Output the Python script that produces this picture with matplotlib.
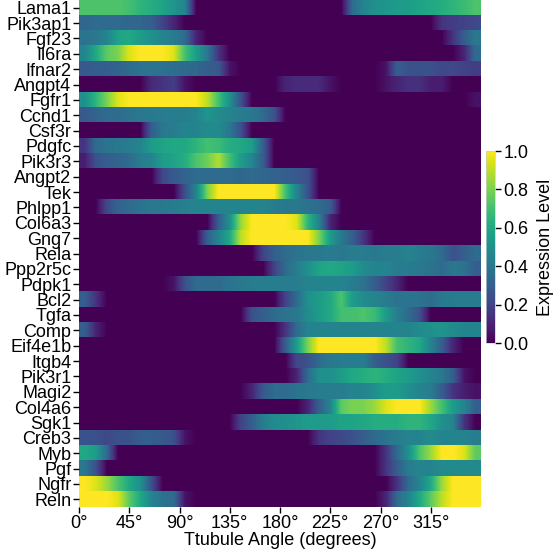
import numpy as np
import matplotlib
matplotlib.use("Agg")
import matplotlib.pyplot as plt

plt.rcParams['font.family'] = ['Liberation Sans', 'DejaVu Sans']

genes = ["Lama1", "Pik3ap1", "Fgf23", "Il6ra", "Ifnar2", "Angpt4", "Fgfr1", "Ccnd1",
         "Csf3r", "Pdgfc", "Pik3r3", "Angpt2", "Tek", "Phlpp1", "Col6a3", "Gng7",
         "Rela", "Ppp2r5c", "Pdpk1", "Bcl2", "Tgfa", "Comp", "Eif4e1b", "Itgb4",
         "Pik3r1", "Magi2", "Col4a6", "Sgk1", "Creb3", "Myb", "Pgf", "Ngfr", "Reln"]

# angle range (degrees), 36 bins of 10 degrees
angle_min, angle_max = 0, 360
angle_ticks = [0, 45, 90, 135, 180, 225, 270, 315]
angle_tick_labels = ["0°", "45°", "90°", "135°", "180°", "225°", "270°", "315°"]

Z = 0.0
lama1   = [0.72,0.72,0.72,0.72,0.70,0.65,0.62,0.58,0.52,0.45,Z,Z,Z,Z,Z,Z,Z,Z,Z,Z,Z,Z,Z,Z,0.35,0.45,0.50,0.52,0.55,0.55,0.58,0.60,0.62,0.65,0.68,0.72]
pik3ap1 = [0.33,0.35,0.35,0.35,0.33,0.33,0.30,0.20,0.10,Z,Z,Z,Z,Z,Z,Z,Z,Z,Z,Z,Z,Z,Z,Z,Z,Z,Z,Z,Z,Z,Z,Z,0.15,0.18,0.20,0.22]
fgf23   = [0.38,0.40,0.45,0.58,0.60,0.55,0.50,0.45,0.42,0.35,0.10,Z,Z,Z,Z,Z,Z,Z,Z,Z,Z,Z,Z,Z,Z,Z,Z,Z,Z,Z,Z,Z,Z,0.15,0.30,0.40]
il6ra   = [0.45,0.60,0.75,0.80,0.95,1.0,1.0,1.0,0.95,0.70,0.55,0.40,0.15,Z,Z,Z,Z,Z,Z,Z,Z,Z,Z,Z,Z,Z,Z,Z,Z,Z,Z,Z,Z,Z,0.10,0.35]
ifnar2  = [0.28,0.30,0.30,0.32,0.35,0.38,0.38,0.38,0.36,0.35,0.33,0.30,0.28,0.05,Z,Z,Z,Z,Z,Z,Z,Z,Z,Z,Z,Z,Z,0.05,0.30,0.25,0.25,0.25,0.22,0.22,0.20,0.18]
angpt4  = [Z,Z,Z,Z,Z,Z,0.12,0.15,0.18,0.05,Z,Z,Z,Z,Z,Z,Z,Z,0.10,0.12,0.12,0.12,0.05,Z,Z,Z,Z,0.05,0.10,0.14,0.14,0.08,0.08,Z,Z,Z]
fgfr1   = [0.50,0.65,0.80,0.95,1.0,1.0,1.0,1.0,1.0,1.0,1.0,0.90,0.70,0.50,0.25,Z,Z,Z,Z,Z,Z,Z,Z,Z,Z,Z,Z,Z,Z,Z,Z,Z,Z,Z,Z,0.05]
ccnd1   = [0.28,0.32,0.35,0.35,0.38,0.40,0.40,0.42,0.42,0.42,0.45,0.52,0.48,0.45,0.42,0.40,0.35,0.25,Z,Z,Z,Z,Z,Z,Z,Z,Z,Z,Z,Z,Z,Z,Z,Z,Z,Z]
csf3r   = [Z,Z,Z,Z,Z,Z,0.30,0.40,0.42,0.45,0.45,0.48,0.48,0.40,0.25,Z,Z,Z,Z,Z,Z,Z,Z,Z,Z,Z,Z,Z,Z,Z,Z,Z,Z,Z,Z,Z]
pdgfc   = [0.15,0.35,0.38,0.40,0.42,0.45,0.55,0.58,0.60,0.60,0.65,0.70,0.68,0.62,0.60,0.55,0.30,Z,Z,Z,Z,Z,Z,Z,Z,Z,Z,Z,Z,Z,Z,Z,Z,Z,Z,Z]
pik3r3  = [0.08,0.25,0.30,0.32,0.35,0.42,0.45,0.55,0.58,0.62,0.72,0.78,0.88,0.70,0.55,0.45,0.30,Z,Z,Z,Z,Z,Z,Z,Z,Z,Z,Z,Z,Z,Z,Z,Z,Z,Z,Z]
angpt2  = [Z,Z,Z,Z,Z,Z,Z,0.22,0.28,0.32,0.35,0.35,0.35,0.35,0.33,0.35,0.33,0.32,0.30,0.28,0.25,Z,Z,Z,Z,Z,Z,Z,Z,Z,Z,Z,Z,Z,Z,Z]
tek     = [Z,Z,Z,Z,Z,Z,Z,Z,Z,0.25,0.45,0.80,1.0,1.0,1.0,1.0,1.0,1.0,0.70,0.45,0.25,Z,Z,Z,Z,Z,Z,Z,Z,Z,Z,Z,Z,Z,Z,Z]
phlpp1  = [Z,Z,0.22,0.32,0.35,0.38,0.40,0.40,0.42,0.43,0.45,0.45,0.45,0.45,0.45,0.45,0.45,0.42,0.40,0.40,0.38,0.35,0.30,Z,Z,Z,Z,Z,Z,Z,Z,Z,Z,Z,Z,Z]
col6a3  = [Z,Z,Z,Z,Z,Z,Z,Z,Z,Z,Z,Z,0.30,0.50,0.85,1.0,1.0,1.0,1.0,0.95,0.65,0.45,0.10,Z,Z,Z,Z,Z,Z,Z,Z,Z,Z,Z,Z,Z]
gng7    = [Z,Z,Z,Z,Z,Z,Z,Z,Z,Z,Z,0.30,0.45,0.60,0.90,1.0,1.0,1.0,1.0,1.0,1.0,0.80,0.55,0.40,0.30,0.15,Z,Z,Z,Z,Z,Z,Z,Z,Z,Z]
rela    = [Z,Z,Z,Z,Z,Z,Z,Z,Z,Z,Z,Z,Z,Z,Z,Z,0.20,0.30,0.35,0.38,0.40,0.40,0.42,0.40,0.42,0.42,0.40,0.42,0.42,0.45,0.42,0.40,0.35,0.25,0.30,0.35]
ppp2r5c = [Z,Z,Z,Z,Z,Z,Z,Z,Z,Z,Z,Z,Z,Z,Z,Z,Z,0.20,0.35,0.42,0.50,0.58,0.60,0.58,0.55,0.48,0.45,0.45,0.42,0.42,0.40,0.38,0.35,0.40,0.38,0.30]
pdpk1   = [Z,Z,Z,Z,Z,Z,Z,Z,0.05,0.25,0.35,0.35,0.35,0.38,0.40,0.42,0.42,0.42,0.42,0.42,0.45,0.45,0.45,0.45,0.42,0.38,0.30,0.20,0.10,Z,Z,Z,Z,Z,Z,Z]
bcl2    = [0.30,0.15,Z,Z,Z,Z,Z,Z,Z,Z,Z,Z,Z,Z,Z,Z,Z,Z,0.20,0.35,0.50,0.55,0.60,0.72,0.55,0.48,0.45,0.42,0.38,0.38,0.38,0.35,0.40,0.42,0.42,0.42]
tgfa    = [Z,Z,Z,Z,Z,Z,Z,Z,Z,Z,Z,Z,Z,Z,Z,0.25,0.30,0.35,0.38,0.40,0.48,0.55,0.60,0.70,0.70,0.72,0.68,0.55,0.42,0.35,0.25,Z,Z,Z,Z,Z]
comp    = [0.30,0.10,Z,Z,Z,Z,Z,Z,Z,Z,Z,Z,Z,Z,Z,Z,Z,Z,0.15,0.35,0.45,0.45,0.45,0.45,0.45,0.45,0.45,0.45,0.45,0.45,0.48,0.50,0.52,0.48,0.45,0.45]
eif4e1b = [Z,Z,Z,Z,Z,Z,Z,Z,Z,Z,Z,Z,Z,Z,Z,Z,Z,Z,0.30,0.55,0.80,1.0,1.0,1.0,1.0,1.0,1.0,0.90,0.70,0.65,0.60,0.45,0.30,0.10,Z,Z]
itgb4   = [Z,Z,Z,Z,Z,Z,Z,Z,Z,Z,Z,Z,Z,Z,Z,Z,Z,Z,Z,0.22,0.25,0.35,0.40,0.42,0.42,0.42,0.30,0.25,0.20,Z,Z,Z,Z,Z,Z,Z]
pik3r1  = [Z,Z,Z,Z,Z,Z,Z,Z,Z,Z,Z,Z,Z,Z,Z,Z,Z,Z,Z,0.10,0.35,0.50,0.50,0.55,0.60,0.62,0.65,0.62,0.58,0.55,0.50,0.45,0.40,0.30,0.05,Z]
magi2   = [Z,Z,Z,Z,Z,Z,Z,Z,Z,Z,Z,Z,Z,Z,Z,0.10,0.28,0.35,0.35,0.38,0.40,0.42,0.42,0.42,0.45,0.45,0.50,0.55,0.55,0.50,0.45,0.42,0.30,0.15,0.08,0.05]
col4a6  = [Z,Z,Z,Z,Z,Z,Z,Z,Z,Z,Z,Z,Z,Z,Z,Z,Z,Z,Z,Z,0.10,0.30,0.45,0.75,0.80,0.80,0.85,0.95,1.0,1.0,1.0,0.85,0.70,0.55,0.45,0.30]
sgk1    = [Z,Z,Z,Z,Z,Z,Z,Z,Z,Z,Z,Z,Z,Z,0.20,0.30,0.42,0.48,0.50,0.52,0.55,0.55,0.55,0.58,0.58,0.60,0.62,0.62,0.62,0.65,0.65,0.60,0.50,0.45,0.15,Z]
creb3   = [0.25,0.25,0.22,0.25,0.25,0.30,0.30,0.28,0.25,0.05,Z,Z,Z,Z,Z,Z,Z,Z,Z,Z,Z,0.15,0.20,0.22,0.25,0.30,0.35,0.38,0.42,0.45,0.45,0.48,0.45,0.45,0.45,0.42]
myb     = [0.60,0.55,0.35,Z,Z,Z,Z,Z,Z,Z,Z,Z,Z,Z,Z,Z,Z,Z,Z,Z,Z,Z,Z,Z,Z,Z,Z,0.15,0.35,0.50,0.72,0.85,1.0,1.0,0.95,0.75]
pgf     = [0.40,0.25,Z,Z,Z,Z,Z,Z,Z,Z,Z,Z,Z,Z,Z,Z,Z,Z,Z,Z,Z,Z,Z,Z,Z,Z,Z,0.15,0.30,0.42,0.45,0.45,0.48,0.48,0.48,0.48]
ngfr    = [1.0,0.95,0.85,0.72,0.60,0.50,0.25,Z,Z,Z,Z,Z,Z,Z,Z,Z,Z,Z,Z,Z,Z,Z,Z,Z,Z,Z,Z,Z,0.15,0.35,0.45,0.60,0.85,1.0,1.0,1.0]
reln    = [1.0,1.0,1.0,0.95,0.75,0.60,0.45,0.38,0.35,0.05,Z,Z,Z,Z,Z,Z,Z,Z,Z,Z,Z,Z,Z,Z,Z,Z,Z,0.10,0.35,0.45,0.60,0.75,0.90,1.0,1.0,1.0]

rows = [lama1, pik3ap1, fgf23, il6ra, ifnar2, angpt4, fgfr1, ccnd1, csf3r, pdgfc,
        pik3r3, angpt2, tek, phlpp1, col6a3, gng7, rela, ppp2r5c, pdpk1, bcl2, tgfa,
        comp, eif4e1b, itgb4, pik3r1, magi2, col4a6, sgk1, creb3, myb, pgf, ngfr, reln]
data = np.array(rows)

FS = 13
W, H = 555, 554
fig = plt.figure(figsize=(W / 100, H / 100), dpi=100)
ax = fig.add_axes([79 / W, 1 - 507 / H, (481 - 79) / W, 507 / H])
im = None
for i, row in enumerate(data):
    # each gene row drawn as its own strip, smoothed along the angle axis only
    im = ax.imshow(row[np.newaxis, :], cmap='viridis', vmin=0, vmax=1,
                   extent=(angle_min, angle_max, i + 1, i), aspect='auto',
                   interpolation='bilinear', interpolation_stage='data')
ax.set_xlim(angle_min, angle_max)
ax.set_ylim(len(genes), 0)
for s in ax.spines.values():
    s.set_visible(False)
ax.set_yticks(np.arange(len(genes)) + 0.5)
ax.set_yticklabels(genes, fontsize=FS)
ax.set_xticks(angle_ticks)
ax.set_xticklabels(angle_tick_labels, fontsize=FS)
ax.tick_params(axis='both', length=4, width=1, color='black', pad=1.5)
ax.set_xlabel("Ttubule Angle (degrees)", fontsize=FS, labelpad=0)

cax = fig.add_axes([486 / W, 1 - 343 / H, 9 / W, (343 - 151) / H])
cb = fig.colorbar(im, cax=cax)
cb.set_ticks([0.0, 0.2, 0.4, 0.6, 0.8, 1.0])
cb.ax.tick_params(labelsize=FS, length=4, width=1, pad=2)
cb.outline.set_linewidth(0.5)
cb.outline.set_edgecolor('#cccccc')
cb.set_label("Expression Level", fontsize=FS, labelpad=6)

fig.savefig("out.png", dpi=100)
